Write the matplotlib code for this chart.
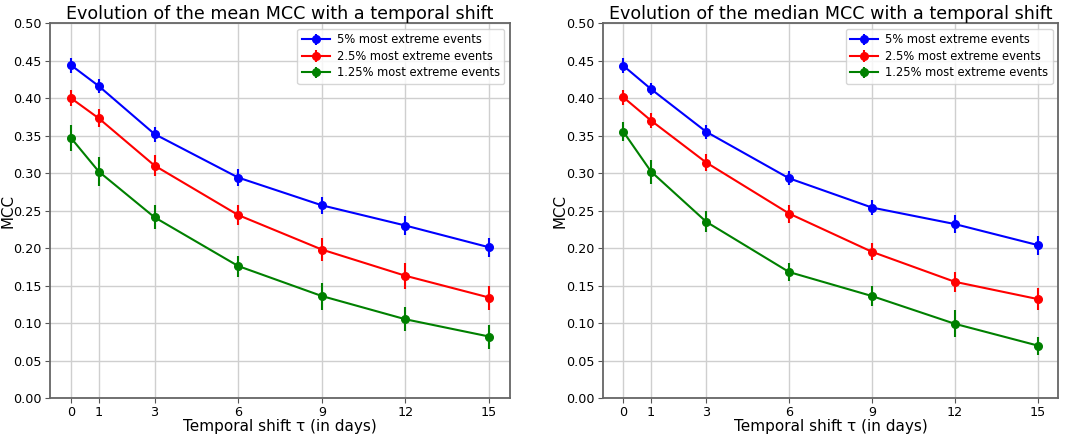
import matplotlib
matplotlib.use("Agg")
import matplotlib.pyplot as plt

shifts = [0, 1, 3, 6, 9, 12, 15]
labels = ["5% most extreme events", "2.5% most extreme events", "1.25% most extreme events"]
colors = ["blue", "red", "green"]

mean_blue = [0.444, 0.416, 0.352, 0.294, 0.257, 0.230, 0.201]
mean_red = [0.400, 0.373, 0.310, 0.244, 0.198, 0.163, 0.134]
mean_green = [0.347, 0.302, 0.241, 0.176, 0.136, 0.105, 0.082]
mean_blue_err = [0.010, 0.009, 0.010, 0.011, 0.0115, 0.013, 0.0127]
mean_red_err = [0.011, 0.012, 0.014, 0.013, 0.0155, 0.017, 0.016]
mean_green_err = [0.017, 0.019, 0.016, 0.014, 0.018, 0.016, 0.016]

med_blue = [0.443, 0.412, 0.355, 0.293, 0.254, 0.232, 0.204]
med_red = [0.401, 0.370, 0.314, 0.246, 0.195, 0.155, 0.132]
med_green = [0.355, 0.302, 0.235, 0.168, 0.136, 0.099, 0.070]
med_blue_err = [0.010, 0.008, 0.009, 0.0095, 0.0095, 0.012, 0.0127]
med_red_err = [0.010, 0.010, 0.011, 0.012, 0.0115, 0.013, 0.0145]
med_green_err = [0.0127, 0.016, 0.014, 0.0115, 0.013, 0.018, 0.012]

yticks = [0.00, 0.05, 0.10, 0.15, 0.20, 0.25, 0.30, 0.35, 0.40, 0.45, 0.50]

fig = plt.figure(figsize=(10.84, 4.38), dpi=100)
ax1 = fig.add_axes([0.0461, 0.0913, 0.4244, 0.856])
ax2 = fig.add_axes([0.556, 0.0913, 0.4203, 0.856])

panels = [
    (ax1, "Evolution of the mean MCC with a temporal shift",
     [mean_blue, mean_red, mean_green], [mean_blue_err, mean_red_err, mean_green_err], -0.076),
    (ax2, "Evolution of the median MCC with a temporal shift",
     [med_blue, med_red, med_green], [med_blue_err, med_red_err, med_green_err], -0.078),
]

for ax, title, series, errs, ylab_x in panels:
    for vals, err, c, lab in zip(series, errs, colors, labels):
        ax.errorbar(shifts, vals, yerr=err, color=c, marker="o", markersize=5.5,
                    linewidth=1.5, elinewidth=1.5, capsize=0, label=lab)
    ax.set_ylim(0, 0.5)
    ax.set_xlim(-0.75, 15.75)
    ax.set_xticks(shifts)
    ax.set_yticks(yticks)
    ax.set_yticklabels([f"{v:.2f}" for v in yticks])
    ax.tick_params(labelsize=9.2, color="#555555", length=3.5, pad=2.5)
    ax.grid(True, color="#cfcfcf", linewidth=1)
    ax.set_axisbelow(True)
    for s in ax.spines.values():
        s.set_color("#666666")
        s.set_linewidth(1.3)
    ax.set_title(title, fontsize=12.6, pad=3)
    ax.set_xlabel("Temporal shift τ (in days)", fontsize=11, labelpad=-0.5)
    ax.set_ylabel("MCC", fontsize=10.8)
    ax.yaxis.set_label_coords(ylab_x, 0.5)
    ax.legend(loc="upper right", fontsize=8.3, framealpha=0.8, handlelength=2.4,
              borderpad=0.4, labelspacing=0.3, handletextpad=0.6)

fig.savefig("out.png", dpi=100)
